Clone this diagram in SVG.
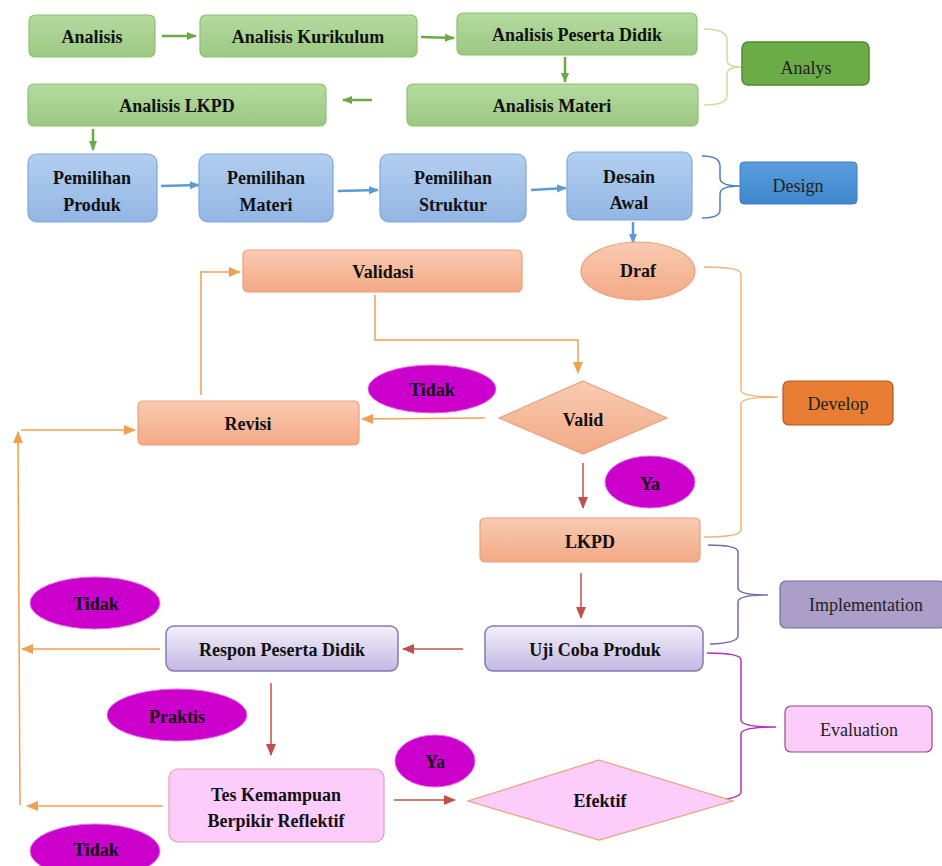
<svg xmlns="http://www.w3.org/2000/svg" width="942" height="866" viewBox="0 0 942 866" font-family="Liberation Serif, Times New Roman, serif">
<defs>
<linearGradient id="gG" x1="0" y1="0" x2="0" y2="1"><stop offset="0" stop-color="#b5dba0"/><stop offset="1" stop-color="#9cc883"/></linearGradient>
<linearGradient id="gB" x1="0" y1="0" x2="0" y2="1"><stop offset="0" stop-color="#b3cff0"/><stop offset="1" stop-color="#92b6e3"/></linearGradient>
<linearGradient id="gO" x1="0" y1="0" x2="0" y2="1"><stop offset="0" stop-color="#f9cbb2"/><stop offset="1" stop-color="#f3a985"/></linearGradient>
<linearGradient id="gP" x1="0" y1="0" x2="0" y2="1"><stop offset="0" stop-color="#f3f0fb"/><stop offset="1" stop-color="#c3b8e2"/></linearGradient>
<linearGradient id="gDB" x1="0" y1="0" x2="0" y2="1"><stop offset="0" stop-color="#5a9ddc"/><stop offset="1" stop-color="#3f87cf"/></linearGradient>
<marker id="aG" markerWidth="10" markerHeight="10" refX="9" refY="5" orient="auto" markerUnits="userSpaceOnUse"><path d="M0,1 L10,5 L0,9 Z" fill="#6aab45"/></marker>
<marker id="aB" markerWidth="10" markerHeight="10" refX="9" refY="5" orient="auto" markerUnits="userSpaceOnUse"><path d="M0,1 L10,5 L0,9 Z" fill="#5b9bd5"/></marker>
<marker id="aO" markerWidth="12" markerHeight="12" refX="11" refY="6" orient="auto" markerUnits="userSpaceOnUse"><path d="M0,1 L12,6 L0,11 Z" fill="#f0a050"/></marker>
<marker id="aR" markerWidth="12" markerHeight="12" refX="11" refY="6" orient="auto" markerUnits="userSpaceOnUse"><path d="M0,1 L12,6 L0,11 Z" fill="#c0504d"/></marker>
</defs>
<style>
.t{font-weight:bold;font-size:18px;fill:#111;text-anchor:middle;dominant-baseline:central}
.r{font-size:18px;fill:#222;text-anchor:middle;dominant-baseline:central}
.g{fill:url(#gG);stroke:#8fc070;stroke-width:1.2}
.b{fill:url(#gB);stroke:#7fa8da;stroke-width:1.2}
.o{fill:url(#gO);stroke:#eaa07a;stroke-width:1.2}
.p{fill:url(#gP);stroke:#8878b0;stroke-width:1.5}
.k{fill:#fccdfa;stroke:#e89ab8;stroke-width:1.2}
.m{fill:#cc00cc;stroke:#e070e0;stroke-width:1}
.cg{stroke:#6aab45;stroke-width:2.5;fill:none}
.cb{stroke:#5b9bd5;stroke-width:2.5;fill:none}
.co{stroke:#f0a050;stroke-width:1.5;fill:none}
.cr{stroke:#c0504d;stroke-width:1.5;fill:none}
</style>
<g id="connectors">
<line class="cg" x1="162" y1="36" x2="196" y2="36" marker-end="url(#aG)"/>
<line class="cg" x1="421" y1="37" x2="454" y2="38" marker-end="url(#aG)"/>
<line class="cg" x1="565" y1="57" x2="565" y2="82" marker-end="url(#aG)"/>
<line class="cg" x1="372" y1="100" x2="343" y2="100" marker-end="url(#aG)"/>
<line class="cg" x1="93" y1="129" x2="93" y2="150" marker-end="url(#aG)"/>
<line class="cb" x1="161" y1="186" x2="199" y2="185" marker-end="url(#aB)"/>
<line class="cb" x1="338" y1="191" x2="378" y2="190" marker-end="url(#aB)"/>
<line class="cb" x1="531" y1="190" x2="566" y2="188" marker-end="url(#aB)"/>
<line class="cb" x1="633" y1="222" x2="633" y2="243" marker-end="url(#aB)"/>
<path class="co" d="M375,295 V340 H578 V373" marker-end="url(#aO)"/>
<line class="co" x1="485" y1="418" x2="362" y2="419" stroke-width="2.5" marker-end="url(#aO)"/>
<path class="co" d="M201,395 V272 H240" marker-end="url(#aO)"/>
<line class="co" x1="21" y1="430" x2="135" y2="430" marker-end="url(#aO)"/>
<path class="co" d="M20,805 L18,440" stroke-width="2"/>
<line class="co" x1="18" y1="445" x2="18" y2="432" stroke-width="2" marker-end="url(#aO)"/>
<line class="co" x1="160" y1="649" x2="22" y2="649" marker-end="url(#aO)"/>
<line class="co" x1="163" y1="806" x2="27" y2="806" marker-end="url(#aO)"/>
<line class="cr" x1="583" y1="463" x2="583" y2="508" marker-end="url(#aR)"/>
<line class="cr" x1="581" y1="573" x2="581" y2="618" marker-end="url(#aR)"/>
<line class="cr" x1="463" y1="649" x2="403" y2="649" marker-end="url(#aR)"/>
<line class="cr" x1="271" y1="683" x2="271" y2="755" marker-end="url(#aR)"/>
<line class="cr" x1="394" y1="800" x2="455" y2="800" marker-end="url(#aR)"/>
<path d="M704,29 Q727,29 727,40 V60 Q727,67 742,67 Q727,67 727,74 V96 Q727,105 704,105" fill="none" stroke="#c9dfa0" stroke-width="1.5"/>
<path d="M702,156 Q720,156 720,166 V178 Q720,186 740,186 Q720,186 720,194 V210 Q720,218 702,218" fill="none" stroke="#4a7fc0" stroke-width="1.5"/>
<path d="M704,267 Q741,267 741,274 V390 Q741,397 778,397 Q741,397 741,404 V530 Q741,537 704,537" fill="none" stroke="#f2b27a" stroke-width="1.5"/>
<path d="M708,545 Q738,545 738,552 V588 Q738,595 768,595 Q738,595 738,602 V636 Q738,643 710,644" fill="none" stroke="#7a6aa8" stroke-width="1.5"/>
<path d="M707,653 Q741,653 741,660 V720 Q741,727 776,727 Q741,727 741,734 V792 Q741,799 707,801" fill="none" stroke="#b030c0" stroke-width="1.5"/>
</g>
<g id="analisis"><rect class="g" x="29" y="15" width="126" height="42" rx="6"/><text class="t" x="92" y="37">Analisis</text></g>
<g id="analisis-kurikulum"><rect class="g" x="200" y="15" width="217" height="42" rx="6"/><text class="t" x="308" y="37">Analisis Kurikulum</text></g>
<g id="analisis-peserta-didik"><rect class="g" x="457" y="13" width="240" height="42" rx="6"/><text class="t" x="577" y="35">Analisis Peserta Didik</text></g>
<g id="analisis-materi"><rect class="g" x="407" y="84" width="291" height="42" rx="6"/><text class="t" x="552" y="106">Analisis Materi</text></g>
<g id="analisis-lkpd"><rect class="g" x="28" y="84" width="298" height="42" rx="6"/><text class="t" x="177" y="106">Analisis LKPD</text></g>
<g id="analys"><rect x="742" y="42" width="127" height="43" rx="6" fill="#6bac47" stroke="#4f8a32" stroke-width="1.5"/><text class="r" x="806" y="68" fill="#1a3010">Analys</text></g>
<g id="pemilihan-produk"><rect class="b" x="28" y="154" width="129" height="68" rx="9"/><text class="t" x="92" y="178">Pemilihan</text><text class="t" x="92" y="205">Produk</text></g>
<g id="pemilihan-materi"><rect class="b" x="199" y="154" width="134" height="68" rx="9"/><text class="t" x="266" y="178">Pemilihan</text><text class="t" x="266" y="205">Materi</text></g>
<g id="pemilihan-struktur"><rect class="b" x="380" y="154" width="146" height="68" rx="9"/><text class="t" x="453" y="178">Pemilihan</text><text class="t" x="453" y="205">Struktur</text></g>
<g id="desain-awal"><rect class="b" x="567" y="152" width="125" height="68" rx="9"/><text class="t" x="629" y="177">Desain</text><text class="t" x="629" y="203">Awal</text></g>
<g id="design"><rect x="740" y="162" width="117" height="42" rx="4" fill="url(#gDB)" stroke="#3f7fc0" stroke-width="1"/><text class="r" x="798" y="186">Design</text></g>
<g id="draf"><ellipse class="o" cx="638" cy="271" rx="57" ry="29"/><text class="t" x="638" y="271">Draf</text></g>
<g id="validasi"><rect class="o" x="243" y="250" width="279" height="42" rx="5"/><text class="t" x="383" y="272">Validasi</text></g>
<g id="revisi"><rect class="o" x="138" y="401" width="221" height="44" rx="5"/><text class="t" x="248" y="424">Revisi</text></g>
<g id="valid"><path class="o" d="M583,381 L667,418 L583,454 L499,418 Z"/><text class="t" x="583" y="420">Valid</text></g>
<g id="tidak-1"><ellipse class="m" cx="432" cy="389" rx="64" ry="24"/><text class="t" x="432" y="390">Tidak</text></g>
<g id="ya-1"><ellipse class="m" cx="650" cy="482" rx="45" ry="26"/><text class="t" x="650" y="484">Ya</text></g>
<g id="lkpd"><rect class="o" x="480" y="518" width="220" height="44" rx="5"/><text class="t" x="590" y="542">LKPD</text></g>
<g id="develop"><rect x="783" y="381" width="110" height="44" rx="6" fill="#e87d33" stroke="#b05a20" stroke-width="1.2"/><text class="r" x="838" y="404">Develop</text></g>
<g id="uji-coba-produk"><rect class="p" x="485" y="626" width="218" height="45" rx="8"/><text class="t" x="595" y="650">Uji Coba Produk</text></g>
<g id="implementation"><rect x="780" y="581" width="165" height="47" rx="6" fill="#ab9fca" stroke="#7a6aa0" stroke-width="1.2"/><text class="r" x="866" y="605">Implementation</text></g>
<g id="respon-peserta-didik"><rect class="p" x="166" y="626" width="232" height="45" rx="8"/><text class="t" x="282" y="650">Respon Peserta Didik</text></g>
<g id="tidak-2"><ellipse class="m" cx="95" cy="603" rx="65" ry="26"/><text class="t" x="96" y="604">Tidak</text></g>
<g id="praktis"><ellipse class="m" cx="177" cy="715" rx="70" ry="26"/><text class="t" x="177" y="717">Praktis</text></g>
<g id="tes-kemampuan"><rect class="k" x="169" y="769" width="215" height="73" rx="9"/><text class="t" x="276" y="795">Tes Kemampuan</text><text class="t" x="276" y="821">Berpikir Reflektif</text></g>
<g id="ya-2"><ellipse class="m" cx="435" cy="761" rx="40" ry="26"/><text class="t" x="435" y="762">Ya</text></g>
<g id="efektif"><path d="M599,760 L733,801 L599,840 L468,801 Z" fill="#fccdfa" stroke="#eaa07a" stroke-width="1.2"/><text class="t" x="600" y="801">Efektif</text></g>
<g id="evaluation"><rect x="785" y="706" width="147" height="46" rx="6" fill="#fccdfa" stroke="#9a4a7a" stroke-width="1.2"/><text class="r" x="859" y="730">Evaluation</text></g>
<g id="tidak-3"><ellipse class="m" cx="95" cy="851" rx="65" ry="27"/><text class="t" x="96" y="850">Tidak</text></g>
</svg>
